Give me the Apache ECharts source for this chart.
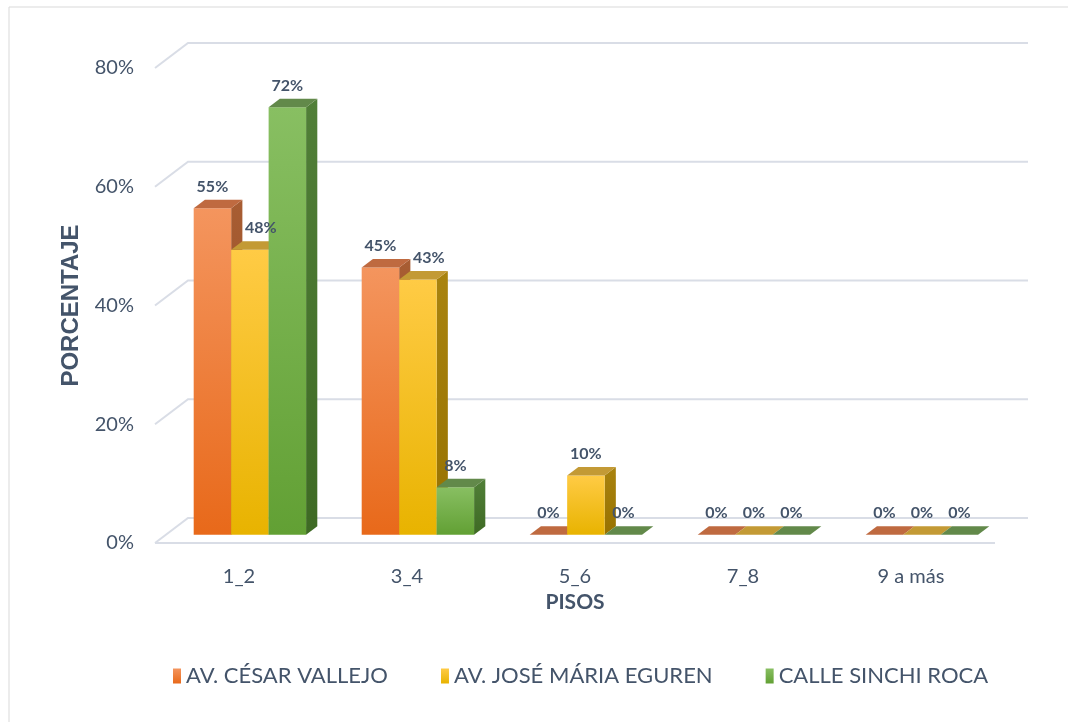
<!DOCTYPE html>
<html>
<head>
<meta charset="utf-8">
<title>Pisos</title>
<script src="https://cdn.jsdelivr.net/npm/echarts@6/dist/echarts.min.js"></script>
<style>
  html, body { margin: 0; padding: 0; background: #fff; }
  #main { width: 1068px; height: 722px; }
</style>
</head>
<body>
<div id="main"></div>
<script>
var categories = ['1_2', '3_4', '5_6', '7_8', '9 a más'];
var seriesNames = ['AV. CÉSAR VALLEJO', 'AV. JOSÉ MÁRIA EGUREN', 'CALLE SINCHI ROCA'];
var cesarVallejo = [55, 45, 0, 0, 0];
var joseEguren = [48, 43, 10, 0, 0];
var sinchiRoca = [72, 8, 0, 0, 0];
var yTicks = [0, 20, 40, 60, 80];

var allValues = [cesarVallejo, joseEguren, sinchiRoca];

var TEXT = '#44546a';
var GRID = '#d9dde6';
var FONT = 'Lato, "Open Sans", sans-serif';

// faces of each 3d column
var palette = [
  { front: ['#f4955e', '#e8691a'], side: ['#a85d33', '#8c4a1e'], top: '#bf6a40' },
  { front: ['#ffcb45', '#e8b300'], side: ['#a9830f', '#977200'], top: '#c39a35' },
  { front: ['#88bf62', '#62a034'], side: ['#517f38', '#3e6a24'], top: '#62894a' }
];

// floor depth (pixels) and where the columns sit inside it
var DEPTH_X = 33, DEPTH_Y = -25;
var NEAR = 0.33, FAR = 0.67;
var BAR_RATIO = 0.223;

function vgrad(c) {
  return { type: 'linear', x: 0, y: 0, x2: 0, y2: 1,
    colorStops: [{ offset: 0, color: c[0] }, { offset: 1, color: c[1] }] };
}

function barBox(api, i, k, v) {
  var band = api.size([1, 0])[0];
  var w = band * BAR_RATIO;
  var base = api.coord([i, 0]);
  var top = api.coord([i, v]);
  var left = base[0] - 1.5 * w + k * w;
  return {
    w: w, left: left,
    L1: left + DEPTH_X * NEAR, R1: left + w + DEPTH_X * NEAR,
    L2: left + DEPTH_X * FAR, R2: left + w + DEPTH_X * FAR,
    T1: top[1] + DEPTH_Y * NEAR, B1: base[1] + DEPTH_Y * NEAR,
    T2: top[1] + DEPTH_Y * FAR, B2: base[1] + DEPTH_Y * FAR
  };
}

function renderWall(params, api) {
  var cs = params.coordSys;
  var v = api.value(1);
  var y = api.coord([0, v])[1];
  var x0 = cs.x, x1 = cs.x + cs.width;
  var st = { stroke: GRID, lineWidth: 2, fill: null };
  var children = [{
    type: 'polyline',
    shape: { points: [[x0, y], [x0 + DEPTH_X, y + DEPTH_Y], [x1 + DEPTH_X, y + DEPTH_Y]] },
    style: st
  }];
  if (v === 0) {
    children.push({ type: 'line', shape: { x1: x0, y1: y, x2: x1, y2: y }, style: st });
  }
  return { type: 'group', children: children };
}

function makeBarRenderer(k) {
  var pal = palette[k];
  return function (params, api) {
    var i = api.value(0), v = api.value(1);
    var b = barBox(api, i, k, v);
    var children = [];
    if (v > 0) {
      children.push({
        type: 'polygon',
        shape: { points: [[b.R1, b.T1], [b.R2, b.T2], [b.R2, b.B2], [b.R1, b.B1]] },
        style: { fill: vgrad(pal.side) }
      });
      children.push({
        type: 'rect',
        shape: { x: b.L1, y: b.T1, width: b.w, height: b.B1 - b.T1 },
        style: { fill: vgrad(pal.front) }
      });
    }
    children.push({
      type: 'polygon',
      shape: { points: [[b.L1, b.T1], [b.R1, b.T1], [b.R2, b.T2], [b.L2, b.T2]] },
      style: { fill: pal.top }
    });
    return { type: 'group', children: children };
  };
}

function renderLabel(params, api) {
  var i = api.value(0), k = api.value(1), v = api.value(2);
  var b = barBox(api, i, k, v);
  var cx = (b.L1 + b.R1) / 2;
  var tw = v >= 10 ? 33 : 23;
  if (k > 0 && allValues[k - 1][i] > v) {
    // keep clear of the taller neighbour's side face
    var edge = b.left + DEPTH_X * FAR;
    if (edge - (cx - tw / 2) > 4) cx = edge + 2 + tw / 2;
  }
  return {
    type: 'text',
    x: cx, y: b.T2 - 13,
    style: { text: v + '%', fill: TEXT, font: 'bold 16px ' + FONT, align: 'center', verticalAlign: 'middle' }
  };
}

var labelData = [];
allValues.forEach(function (vals, k) {
  vals.forEach(function (v, i) { labelData.push([i, k, v]); });
});

var series = [{
  type: 'custom',
  name: 'walls',
  silent: true,
  z: 1,
  renderItem: renderWall,
  data: yTicks.map(function (t) { return [0, t]; })
}];
allValues.forEach(function (vals, k) {
  series.push({
    type: 'custom',
    name: seriesNames[k],
    z: 2,
    itemStyle: { color: vgrad(palette[k].front) },
    renderItem: makeBarRenderer(k),
    data: vals.map(function (v, i) { return [i, v]; })
  });
});
series.push({
  type: 'custom',
  name: 'labels',
  silent: true,
  z: 5,
  renderItem: renderLabel,
  data: labelData
});

var option = {
  animation: false,
  backgroundColor: '#fff',
  textStyle: { fontFamily: FONT },
  graphic: [{
    type: 'rect',
    shape: { x: 9, y: 7, width: 1100, height: 800 },
    style: { fill: null, stroke: '#d9d9d9', lineWidth: 1 }
  }],
  grid: { left: 155, right: 73, top: 68, bottom: 179 },
  legend: {
    data: seriesNames,
    left: 168,
    top: 660,
    icon: 'rect',
    itemWidth: 8,
    itemHeight: 15,
    itemGap: 53,
    textStyle: { color: TEXT, fontSize: 22, fontFamily: FONT }
  },
  xAxis: {
    type: 'category',
    data: categories,
    axisLine: { show: false },
    axisTick: { show: false },
    axisLabel: { color: TEXT, fontSize: 20, margin: 24, fontFamily: FONT },
    name: 'PISOS',
    nameLocation: 'middle',
    nameGap: 49,
    nameTextStyle: { color: TEXT, fontSize: 21, fontWeight: 'bold', fontFamily: FONT }
  },
  yAxis: {
    type: 'value',
    min: 0,
    max: 80,
    interval: 20,
    splitLine: { show: false },
    axisLine: { show: false },
    axisTick: { show: false },
    axisLabel: { color: TEXT, fontSize: 20, margin: 21, formatter: '{value}%', fontFamily: FONT },
    name: 'PORCENTAJE',
    nameLocation: 'middle',
    nameGap: 71,
    nameRotate: 90,
    nameTextStyle: { color: TEXT, fontSize: 24, fontWeight: 'bold', fontFamily: '"Liberation Sans", Arial, sans-serif' }
  },
  series: series
};

var myChart = echarts.init(document.getElementById('main'));
myChart.setOption(option);
</script>
</body>
</html>
